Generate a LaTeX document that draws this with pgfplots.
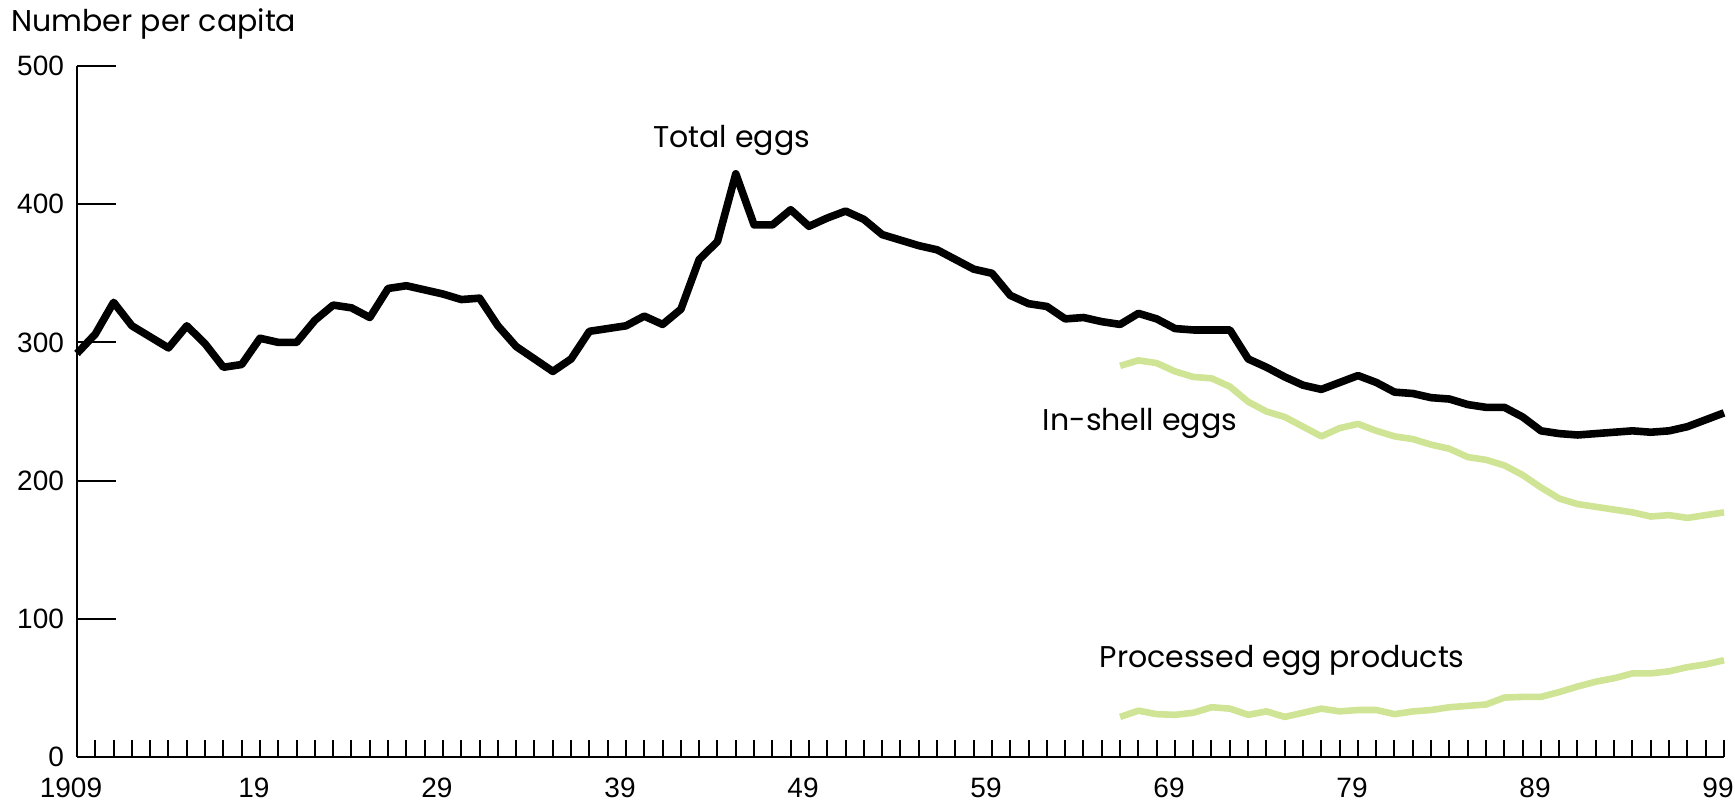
\documentclass[border=0pt]{standalone}
\usepackage{fontspec}
\usepackage{pgfplots}
\pgfplotsset{compat=1.18}
\setmainfont{Liberation Sans}
\newfontfamily\gothic{Poppins}
\definecolor{shellgreen}{RGB}{208,228,150}

% per capita egg consumption
\pgfplotstableread{
year total
1909 292
1910 306
1911 329
1912 312
1913 304
1914 296
1915 312
1916 299
1917 282
1918 284
1919 303
1920 300
1921 300
1922 316
1923 327
1924 325
1925 318
1926 339
1927 341
1928 338
1929 335
1930 331
1931 332
1932 312
1933 297
1934 288
1935 279
1936 288
1937 308
1938 310
1939 312
1940 319
1941 313
1942 324
1943 360
1944 373
1945 422
1946 385
1947 385
1948 396
1949 384
1950 390
1951 395
1952 389
1953 378
1954 374
1955 370
1956 367
1957 360
1958 353
1959 350
1960 334
1961 328
1962 326
1963 317
1964 318
1965 315
1966 313
1967 321
1968 317
1969 310
1970 309
1971 309
1972 309
1973 288
1974 282
1975 275
1976 269
1977 266
1978 271
1979 276
1980 271
1981 264
1982 263
1983 260
1984 259
1985 255
1986 253
1987 253
1988 246
1989 236
1990 234
1991 233
1992 234
1993 235
1994 236
1995 235
1996 236
1997 239
1998 244
1999 249
}\totaltab

\pgfplotstableread{
year shell processed
1966 283 29
1967 287 33.5
1968 285 31
1969 279 30.5
1970 275 32
1971 274 36
1972 268 35
1973 257 30.5
1974 250 33
1975 246 29
1976 239 32
1977 232 35
1978 238 33
1979 241 34
1980 236 34
1981 232 31
1982 230 33
1983 226 34
1984 223 36
1985 217 37
1986 215 38
1987 211 43
1988 204 43.5
1989 195 43.5
1990 187 47
1991 183 51
1992 181 54.5
1993 179 57
1994 177 60.5
1995 174 60.5
1996 175 62
1997 173 65
1998 175 67
1999 177 70
}\splittab

\begin{document}
\begin{tikzpicture}
\begin{axis}[
    scale only axis,
    width=823.5pt, height=345.5pt,
    xmin=1909, xmax=1999,
    ymin=0, ymax=500,
    axis x line*=bottom,
    axis y line*=left,
    axis line style={line width=1.3pt, -},
    tick align=inside,
    xtick={1909,1919,...,1999},
    xticklabels={1909,19,29,39,49,59,69,79,89,99},
    minor xtick={1910,...,1998},
    ytick={0,100,...,500},
    xtick style={line width=1pt, black, /pgfplots/major tick length=8.5pt, /pgfplots/minor tick length=8.5pt},
    ytick style={line width=1pt, black, /pgfplots/major tick length=19.5pt},
    /pgf/number format/assume math mode=true,
    tick label style={font=\fontsize{14}{16}\selectfont},
    xticklabel style={yshift=-7pt, xshift=-3pt},
    yticklabel style={xshift=-3pt},
    clip=false,
]
\addplot[black, line width=3.8pt, line join=round] table[x=year, y=total] {\totaltab};
\addplot[shellgreen, line width=3.3pt, line join=round] table[x=year, y=shell] {\splittab};
\addplot[shellgreen, line width=3.3pt, line join=round] table[x=year, y=processed] {\splittab};

\node[anchor=west, font=\gothic\fontsize{15}{17}\selectfont] at (axis cs:1940.1,446) {Total eggs};
\node[anchor=west, font=\gothic\fontsize{15}{17}\selectfont] at (axis cs:1961.4,241) {In-shell eggs};
\node[anchor=west, font=\gothic\fontsize{15}{17}\selectfont] at (axis cs:1964.5,70) {Processed egg products};
\node[anchor=west, inner sep=0pt, font=\gothic\fontsize{15}{17}\selectfont] at (rel axis cs:-0.04,1.061) {Number per capita};

\coordinate (bbsw) at (rel axis cs:-0.04675,-0.0709);
\coordinate (bbne) at (rel axis cs:1.00668,1.0955);
\end{axis}
\pgfresetboundingbox
\path (bbsw) rectangle (bbne);
\end{tikzpicture}
\end{document}
